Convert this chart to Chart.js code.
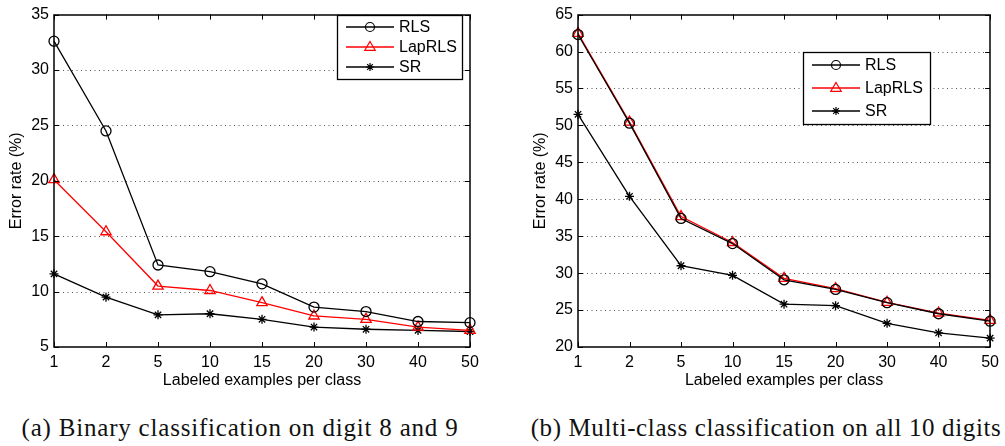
<!DOCTYPE html>
<html>
<head>
<meta charset="utf-8">
<script src="https://cdn.jsdelivr.net/npm/chart.js@4.4.0/dist/chart.umd.min.js"></script>
<style>
  body { margin: 0; background: #fff; width: 1005px; height: 446px; position: relative; overflow: hidden; }
  .plot { position: absolute; top: 0; height: 395px; }
  .caption { position: absolute; top: 413px; line-height: 30px; font-family: "Liberation Serif", serif; font-size: 25px; letter-spacing: 0.8px; color: #111; white-space: nowrap; transform: translateX(-50%); }
</style>
</head>
<body>
<div class="plot" style="left:0;width:500px"><canvas id="binChart"></canvas></div>
<div class="plot" style="left:500px;width:505px"><canvas id="multiChart"></canvas></div>
<div class="caption" style="left:240px">(a) Binary classification on digit 8 and 9</div>
<div class="caption" style="left:766px;letter-spacing:0.62px">(b) Multi-class classification on all 10 digits</div>
<script>
const xLabels = ["1", "2", "5", "10", "15", "20", "30", "40", "50"];
const seriesNames = ["RLS", "LapRLS", "SR"];

// (a) binary, digit 8 vs 9
const binRLS = [32.6, 24.5, 12.4, 11.8, 10.7, 8.6, 8.2, 7.3, 7.2];
const binLapRLS = [20.1, 15.4, 10.5, 10.1, 9.0, 7.8, 7.5, 6.8, 6.5];
const binSR = [11.6, 9.5, 7.9, 8.0, 7.5, 6.8, 6.6, 6.5, 6.4];

// (b) multi-class, all 10 digits
const multiRLS = [62.3, 50.3, 37.4, 34.0, 29.1, 27.8, 26.0, 24.5, 23.5];
const multiLapRLS = [62.45, 50.45, 37.65, 34.15, 29.3, 27.9, 26.05, 24.6, 23.6];
const multiSR = [51.5, 40.4, 31.0, 29.7, 25.8, 25.6, 23.2, 21.9, 21.2];

const binRange = [5, 35];
const multiRange = [20, 65];

const FONT = "'Liberation Sans', Arial, sans-serif";
const styles = [
  { color: "#000", pointStyle: "circle", radius: 5 },
  { color: "#ff0000", pointStyle: "triangle", radius: 6 },
  { color: "#000", pointStyle: "star", radius: 4.5 }
];

function marker(ctx, style, x, y, r, color) {
  ctx.save();
  ctx.strokeStyle = color;
  ctx.lineWidth = 1.2;
  ctx.beginPath();
  if (style === "circle") {
    ctx.arc(x, y, r, 0, Math.PI * 2);
  } else if (style === "triangle") {
    ctx.moveTo(x, y - r);
    ctx.lineTo(x + r * 0.95, y + r * 0.6);
    ctx.lineTo(x - r * 0.95, y + r * 0.6);
    ctx.closePath();
  } else {
    for (let i = 0; i < 4; i++) {
      const a = i * Math.PI / 4;
      ctx.moveTo(x - Math.cos(a) * r, y - Math.sin(a) * r);
      ctx.lineTo(x + Math.cos(a) * r, y + Math.sin(a) * r);
    }
  }
  ctx.stroke();
  ctx.restore();
}

// matlab style: dotted grid, box, inward ticks and a boxed legend
const boxPlugin = {
  id: "matlabBox",
  beforeDatasetsDraw(chart) {
    const { ctx, chartArea: a, scales } = chart;
    ctx.save();
    ctx.strokeStyle = "#555";
    ctx.lineWidth = 1;
    ctx.setLineDash([1, 3.5]);
    const n = scales.y.ticks.length;
    scales.y.ticks.forEach((t, i) => {
      if (i === 0 || i === n - 1) return;
      const py = Math.round(scales.y.getPixelForTick(i)) + 0.5;
      ctx.beginPath();
      ctx.moveTo(a.left, py); ctx.lineTo(a.right, py);
      ctx.stroke();
    });
    ctx.restore();
  },
  afterDraw(chart, args, opts) {
    const { ctx, chartArea: a, scales } = chart;
    ctx.save();
    ctx.strokeStyle = "#000";
    ctx.lineWidth = 1;
    const tl = 5;
    scales.y.ticks.forEach((t, i) => {
      const py = Math.round(scales.y.getPixelForTick(i)) + 0.5;
      ctx.beginPath();
      ctx.moveTo(a.left, py); ctx.lineTo(a.left + tl, py);
      ctx.moveTo(a.right, py); ctx.lineTo(a.right - tl, py);
      ctx.stroke();
    });
    scales.x.ticks.forEach((t, i) => {
      const px = Math.round(scales.x.getPixelForTick(i)) + 0.5;
      ctx.beginPath();
      ctx.moveTo(px, a.bottom); ctx.lineTo(px, a.bottom - tl);
      ctx.moveTo(px, a.top); ctx.lineTo(px, a.top + tl);
      ctx.stroke();
    });
    ctx.lineWidth = 1.5;
    ctx.strokeRect(Math.round(a.left), Math.round(a.top), Math.round(a.right - a.left), Math.round(a.bottom - a.top));

    // legend
    const L = opts.legend;
    ctx.fillStyle = "#fff";
    ctx.fillRect(L.x, L.y, L.w, L.h);
    ctx.lineWidth = 1.3;
    ctx.strokeRect(L.x + 0.5, L.y + 0.5, L.w, L.h);
    ctx.font = "16px " + FONT;
    ctx.textBaseline = "middle";
    chart.data.datasets.forEach((ds, i) => {
      const cy = L.y + L.first + i * L.step;
      ctx.strokeStyle = ds.borderColor;
      ctx.lineWidth = 1.3;
      ctx.beginPath();
      ctx.moveTo(L.x + 9, cy); ctx.lineTo(L.x + 57, cy);
      ctx.stroke();
      marker(ctx, styles[i].pointStyle, L.x + 33, cy, styles[i].radius - 0.5, ds.borderColor);
      ctx.fillStyle = "#000";
      ctx.fillText(ds.label, L.x + 62, cy + 1);
    });
    ctx.restore();
  }
};

function makeChart(id, data, range, yWidth, padRight, yTitlePad, legend) {
  return new Chart(document.getElementById(id), {
    type: "line",
    data: {
      labels: xLabels,
      datasets: data.map((d, i) => ({
        label: seriesNames[i],
        data: d,
        borderColor: styles[i].color,
        borderWidth: 1.3,
        pointStyle: styles[i].pointStyle,
        pointRadius: styles[i].radius,
        pointBorderColor: styles[i].color,
        pointBackgroundColor: "rgba(0,0,0,0)",
        pointBorderWidth: 1.3,
        tension: 0
      }))
    },
    options: {
      responsive: true,
      maintainAspectRatio: false,
      animation: false,
      layout: { padding: { top: 8, right: padRight, bottom: 0, left: 0 } },
      plugins: {
        legend: { display: false },
        tooltip: { enabled: false },
        matlabBox: { legend: legend }
      },
      scales: {
        x: {
          type: "category",
          offset: false,
          grid: { display: false, drawTicks: false },
          border: { display: false },
          ticks: { color: "#000", font: { family: FONT, size: 16 }, padding: 6, maxRotation: 0, autoSkip: false },
          title: { display: true, text: "Labeled examples per class", color: "#000", font: { family: FONT, size: 16 }, padding: { top: 0, bottom: 5 } },
          afterFit(s) { s.height = 48; }
        },
        y: {
          min: range[0],
          max: range[1],
          grid: { display: false, drawTicks: false },
          border: { display: false },
          ticks: { stepSize: 5, color: "#000", font: { family: FONT, size: 16 }, padding: 5 },
          title: { display: true, text: "Error rate (%)", color: "#000", font: { family: FONT, size: 16 }, padding: { top: yTitlePad, bottom: 0 } },
          afterFit(s) { s.width = yWidth; }
        }
      }
    },
    plugins: [boxPlugin]
  });
}

makeChart("binChart", [binRLS, binLapRLS, binSR], binRange, 54, 30, 7,
  { x: 337, y: 15, w: 125, h: 64, first: 12, step: 20 });
makeChart("multiChart", [multiRLS, multiLapRLS, multiSR], multiRange, 78, 10, 31,
  { x: 303, y: 52, w: 127, h: 72, first: 13, step: 23 });
</script>
</body>
</html>
